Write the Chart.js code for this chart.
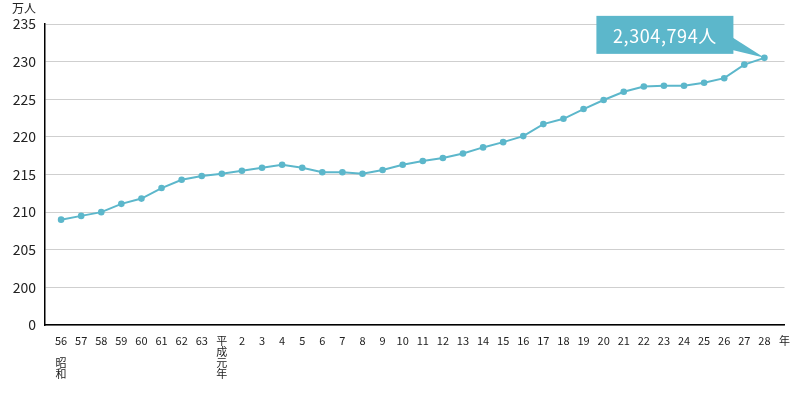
<!DOCTYPE html>
<html>
<head>
<meta charset="utf-8">
<script src="https://cdn.jsdelivr.net/npm/chart.js@4"></script>
<style>
html,body{margin:0;padding:0;background:#fff;}
#wrap{width:800px;height:403px;position:relative;}
</style>
</head>
<body>
<div id="wrap"><canvas id="c" width="800" height="403"></canvas></div>
<script>
// Categories (Showa 56 .. Heisei 28), last entry is the unit label
const tickLabels = [
  ['56','','昭','和'],'57','58','59','60','61','62','63',
  ['平','成','元','年'],'2','3','4','5','6','7','8','9','10','11','12','13','14','15','16',
  '17','18','19','20','21','22','23','24','25','26','27','28','年'
];
// Population, 万人
const population = [
  209.0,209.5,210.0,211.1,211.8,213.2,214.3,214.8,
  215.1,215.5,215.9,216.3,215.9,215.3,215.3,215.1,215.6,216.3,216.8,217.2,217.8,218.6,219.3,220.1,
  221.7,222.4,223.7,224.9,226.0,226.7,226.8,226.8,227.2,227.8,229.6,230.5
];
// Broken y-axis tick values (0, then 200..235)
const yTickValues = [0,200,205,210,215,220,225,230,235];
const unitLabel = '万人';
const calloutValue = 2304794;
const calloutText = calloutValue.toLocaleString('en-US') + '人';

const BREAK = 195; // values above the break are shifted down
const tv = v => v === 0 ? 0 : v - BREAK;
const fromT = t => t === 0 ? 0 : t + BREAK;

const FONT = '"Noto Sans CJK JP","Noto Sans",sans-serif';
const TEAL = '#5cb7cb';

const points = population.map((v,i)=>({x:i, y:tv(v)}));

const extras = {
  id:'extras',
  afterDatasetsDraw(chart){
    const ctx = chart.ctx;
    ctx.save();
    ctx.fillStyle = '#222';
    ctx.font = '12px ' + FONT;
    ctx.textAlign = 'center';
    ctx.textBaseline = 'middle';
    ctx.fillText(unitLabel, 24, 8);
    const meta = chart.getDatasetMeta(0);
    const p = meta.data[meta.data.length-1];
    const px = p.x, py = p.y;
    ctx.fillStyle = TEAL;
    ctx.beginPath();
    ctx.moveTo(px-33, py-21);
    ctx.lineTo(px, py);
    ctx.lineTo(px-33, py-8);
    ctx.closePath();
    ctx.fill();
    const bx = px-168, by = py-42, bw = 137, bh = 38;
    ctx.fillRect(bx, by, bw, bh);
    ctx.fillStyle = '#fff';
    ctx.font = '18px ' + FONT;
    ctx.textAlign = 'center';
    ctx.textBaseline = 'middle';
    if ('letterSpacing' in ctx) ctx.letterSpacing = '0.6px';
    ctx.fillText(calloutText, bx + bw/2, by + bh/2 + 1);
    ctx.restore();
  }
};

new Chart(document.getElementById('c'), {
  type:'line',
  data:{
    datasets:[{
      data: points,
      borderColor: TEAL,
      backgroundColor: TEAL,
      borderWidth: 2,
      pointRadius: 3.3,
      pointBackgroundColor: TEAL,
      pointBorderWidth: 0,
      tension: 0,
      fill: false,
      clip: false
    }]
  },
  options:{
    responsive:false,
    animation:false,
    devicePixelRatio:1,
    layout:{padding:{top:24,right:14,bottom:0,left:0}},
    plugins:{legend:{display:false},tooltip:{enabled:false}},
    scales:{
      x:{
        type:'linear',
        min:-0.8,
        max:tickLabels.length-1,
        afterBuildTicks(scale){ scale.ticks = tickLabels.map((l,i)=>({value:i})); },
        afterFit(scale){ scale.height = 78; },
        grid:{display:false, drawTicks:false},
        border:{display:true, color:'#000', width:1.5},
        ticks:{
          autoSkip:false, maxRotation:0, padding:10,
          color:'#222',
          font:{family:FONT, size:11, lineHeight:1.0},
          callback:(v)=> tickLabels[v]
        }
      },
      y:{
        type:'linear',
        min:0,
        max:tv(yTickValues[yTickValues.length-1]),
        afterBuildTicks(scale){ scale.ticks = yTickValues.map(v=>({value:tv(v)})); },
        afterFit(scale){ scale.width = 45; },
        grid:{color:'#cfcfcf', lineWidth:1, drawTicks:false},
        border:{display:true, color:'#000', width:1.5},
        ticks:{
          padding:9,
          color:'#222',
          font:{family:FONT, size:14},
          callback:(v)=> String(fromT(v))
        }
      }
    }
  },
  plugins:[extras]
});
</script>
</body>
</html>
